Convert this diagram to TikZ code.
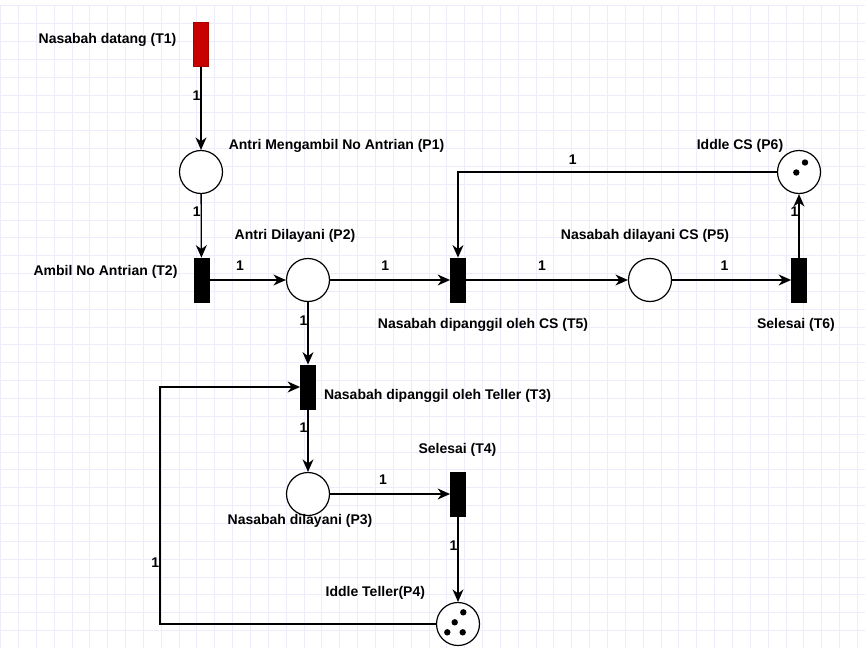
\documentclass[tikz,border=0pt]{standalone}
\usepackage{fontspec}
\setmainfont{Liberation Sans}
\usepackage{tikz}
\usetikzlibrary{positioning,arrows.meta}
\usepackage{xcolor}

\definecolor{gridcol}{RGB}{236,236,252}
\definecolor{tred}{RGB}{200,0,0}
\definecolor{tredline}{RGB}{165,0,0}

\tikzset{
  place/.style={circle, draw, line width=1.2pt, minimum size=43pt, inner sep=0pt, fill=white},
  trans/.style={rectangle, draw, fill=black, line width=0.8pt, minimum width=15pt, minimum height=44pt, inner sep=0pt},
  arc/.style={->, line width=1.3pt},
  wt/.style={inner sep=0pt},
  lbl/.style={inner sep=0pt},
}

\begin{document}
\begin{tikzpicture}[
  x=1pt, y=-1pt,
  font=\fontsize{14}{16}\selectfont\bfseries,
  >={Stealth[length=12.5pt, width=11pt, inset=4pt]},
]
  % Background and grid
  \fill[white] (0,0) rectangle (865,648);
  \useasboundingbox (0,0) rectangle (865,648);
  \foreach \i in {0,...,48} {
    \draw[gridcol, line width=0.8pt] (0.5+\i*17.85,5.7) -- (0.5+\i*17.85,648);
  }
  \foreach \j in {0,...,35} {
    \draw[gridcol, line width=0.8pt] (0,5.7+\j*17.85) -- (865,5.7+\j*17.85);
  }

  % Transitions
  \node[trans, fill=tred, draw=tredline] (T1) at (201,44.5) {};
  \node[trans] (T2) at (201.5,280) {};
  \node[trans] (T3) at (308,387) {};
  \node[trans] (T4) at (458,494) {};
  \node[trans] (T5) at (458,280) {};
  \node[trans] (T6) at (799,280) {};

  % Places
  \node[place] (P1) at (201,172) {};
  \node[place] (P2) at (308,280) {};
  \node[place] (P3) at (308,494) {};
  \node[place] (P4) at (458,624) {};
  \node[place] (P5) at (650,280) {};
  \node[place] (P6) at (799,172) {};

  % Tokens
  \foreach \dx/\dy in {6/-9.5, -2.7/0.5} {
    \fill (P6) ++(\dx,\dy) circle (3.2);
  }
  \foreach \dx/\dy in {5.3/-11.7, -3.3/-1.7, -10.7/8.3, 4.7/8.3} {
    \fill (P4) ++(\dx,\dy) circle (3.2);
  }

  % Arcs
  \draw[arc] (T1) -- node[wt, pos=0.35, left] {1} (P1);
  \draw[arc] (P1) -- node[wt, pos=0.28, left] {1} (T2);
  \draw[arc] (T2) -- node[wt, pos=0.4, above=9pt] {1} (P2);
  \draw[arc] (P2) -- node[wt, pos=0.46, above=9pt] {1} (T5);
  \draw[arc] (T5) -- node[wt, pos=0.47, above=9pt] {1} (P5);
  \draw[arc] (P5) -- node[wt, pos=0.44, above=9pt] {1} (T6);
  \draw[arc] (T6) -- node[wt, pos=0.72, left] {1} (P6);
  \draw[arc] (P6.west) -| node[wt, pos=0.32, above=7pt] {1} (T5.north);
  \draw[arc] (P2) -- node[wt, pos=0.29, left] {1} (T3);
  \draw[arc] (T3) -- node[wt, pos=0.29, left] {1} (P3);
  \draw[arc] (P3) -- node[wt, pos=0.44, above=8.5pt] {1} (T4);
  \draw[arc] (T4) -- node[wt, pos=0.34, left] {1} (P4);
  \draw[arc] (P4.west) -- ++(-276,0) |- node[wt, pos=0.13, left] {1} (T3.west);

  % Labels
  \node[lbl] (lT1) at (107.5,40) {Nasabah datang (T1)};
  \node[lbl] (lP1) at (336.5,146) {Antri Mengambil No Antrian (P1)};
  \node[lbl] (lT2) at (105.5,271.5) {Ambil No Antrian (T2)};
  \node[lbl] (lP2) at (295,236) {Antri Dilayani (P2)};
  \node[lbl] (lT5) at (483,325) {Nasabah dipanggil oleh CS (T5)};
  \node[lbl] (lP5) at (645,236) {Nasabah dilayani CS (P5)};
  \node[lbl] (lT6) at (796,325) {Selesai (T6)};
  \node[lbl] (lP6) at (740,146) {Iddle CS (P6)};
  \node[lbl] (lT3) at (437.5,396) {Nasabah dipanggil oleh Teller (T3)};
  \node[lbl] (lP3) at (300,521) {Nasabah dilayani (P3)};
  \node[lbl] (lT4) at (457.5,450) {Selesai (T4)};
  \node[lbl] (lP4) at (375.3,592.5) {Iddle Teller(P4)};
\end{tikzpicture}
\end{document}
